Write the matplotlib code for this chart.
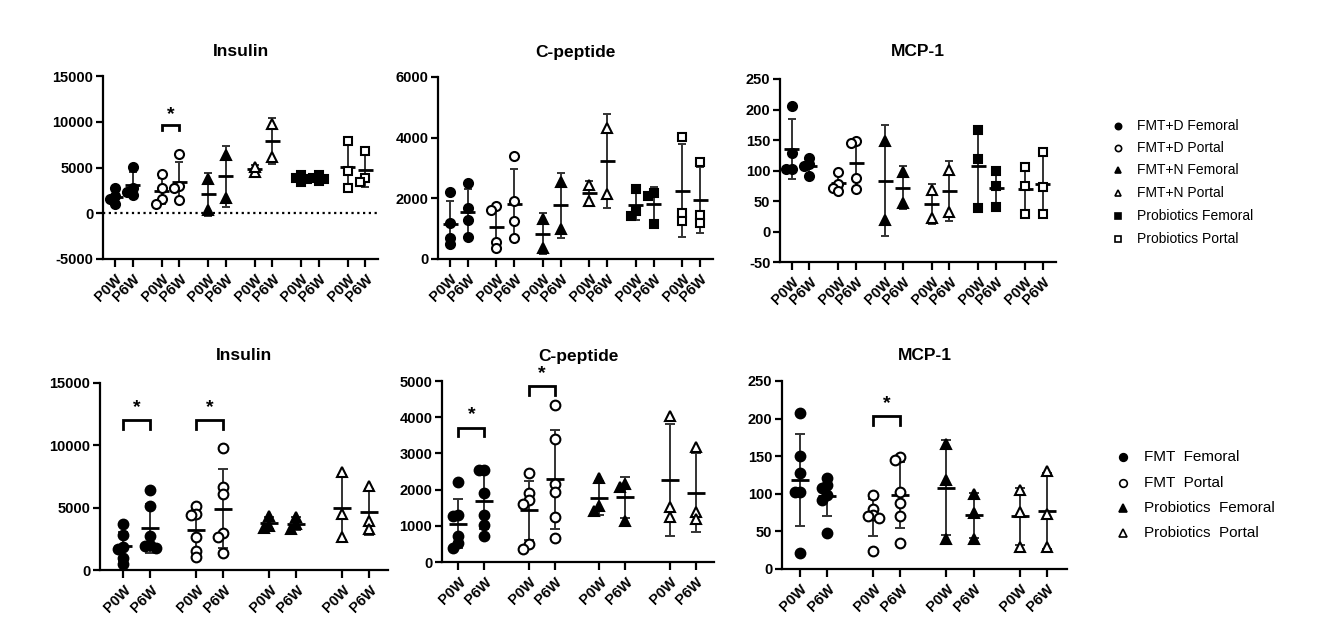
import numpy as np
import matplotlib
matplotlib.use('Agg')
import matplotlib.pyplot as plt
from matplotlib.lines import Line2D

plt.rcParams['font.family'] = ['Liberation Sans', 'DejaVu Sans']

# ---------------- data ----------------
timepoints = ['P0W', 'P6W']

top_groups = ['FMT+D Femoral', 'FMT+D Portal', 'FMT+N Femoral',
              'FMT+N Portal', 'Probiotics Femoral', 'Probiotics Portal']
bot_groups = ['FMT  Femoral', 'FMT  Portal', 'Probiotics  Femoral',
              'Probiotics  Portal']

# each entry: one column (group x timepoint), order P0W, P6W per group
top_insulin = [
    [2800, 1900, 1600, 1000], [5100, 2800, 2300, 2000],
    [4300, 2800, 1600, 1050], [6500, 3000, 2800, 1450],
    [3700, 400], [6400, 1700],
    [4500, 5100], [9700, 6100],
    [4200, 3700, 3400, 3900], [4200, 3700, 3500, 3800],
    [7850, 4600, 2800], [6800, 3900, 3400],
]
top_cpeptide = [
    [2200, 1200, 700, 500], [2520, 1680, 1300, 720],
    [1750, 1600, 550, 350], [3380, 1920, 1240, 680],
    [1320, 360], [2530, 1000],
    [2450, 1900], [4320, 2130],
    [2310, 1570, 1430], [2180, 2070, 1150],
    [4010, 1520, 1240], [3190, 1460, 1190],
]
top_mcp1 = [
    [206, 128, 103, 103], [121, 110, 107, 91],
    [98, 78, 72, 67], [148, 145, 87, 70],
    [148, 19], [97, 47],
    [68, 22], [101, 32],
    [167, 119, 38], [100, 75, 40],
    [105, 75, 29], [130, 73, 29],
]
bot_insulin = [
    [3680, 2800, 1660, 1870, 930, 480], [6450, 5100, 2750, 2000, 1950, 1750],
    [5150, 4480, 4380, 2670, 1550, 1020], [9800, 6620, 6090, 2940, 2670, 1390],
    [4300, 3550, 3400], [4250, 3650, 3250],
    [7870, 4480, 2670], [6750, 3950, 3260],
]
bot_cpeptide = [
    [2200, 1300, 1260, 710, 520, 390], [2540, 2540, 1900, 1300, 1030, 730],
    [2450, 1900, 1720, 1610, 510, 370], [4330, 3390, 2150, 1930, 1240, 660],
    [2310, 1420, 1560], [2160, 2060, 1140],
    [4030, 1510, 1240], [3180, 1390, 1180],
]
bot_mcp1 = [
    [207, 150, 128, 103, 102, 21], [121, 112, 108, 98, 92, 48],
    [99, 80, 72, 70, 68, 24], [149, 145, 103, 88, 71, 34],
    [166, 119, 40], [100, 74, 40],
    [105, 76, 29], [130, 73, 29],
]

top_markers = [('o', True), ('o', False), ('^', True), ('^', False),
               ('s', True), ('s', False)]
bot_markers = [('o', True), ('o', False), ('^', True), ('^', False)]

# ---------------- figure ----------------
W, H = 1328, 630
fig = plt.figure(figsize=(W / 100, H / 100), dpi=100)
fig.patch.set_facecolor('white')

TICK_FONT = dict(fontsize=10.5, fontweight='bold')


def swarm_offsets(vals, px_per_unit, d):
    """Prism-like column scatter: small sideways shifts, overlap allowed."""
    order = np.argsort(vals)[::-1]
    placed = []
    offs = np.zeros(len(vals))
    s = d * 0.6
    for i in order:
        y = vals[i] * px_per_unit
        best, best_score = 0.0, -1.0
        for c in [0, -1, 1]:
            x = c * s
            score = min([np.hypot(x - px, y - py) for px, py in placed] + [1e9])
            if score >= 0.6 * d:
                best = x
                break
            if score > best_score:
                best, best_score = x, score
        placed.append((best, y))
        offs[i] = best
    return offs


def panel(rect, first_tick, last_tick, title, data, markers, ylim, yticks,
          pair_gap, sigs=(), zero_line=False, mean_hw_px=7.5, cap=3.0,
          ms=6.5, title_y=None):
    x0, y0, x1, y1 = rect
    ax = fig.add_axes([x0 / W, 1 - y1 / H, (x1 - x0) / W, (y1 - y0) / H])
    n = len(data)
    pos = np.array([(i // 2) * pair_gap + (i % 2) for i in range(n)], float)
    unit = (last_tick - first_tick) / (pos[-1] - pos[0])
    xl = pos[0] - (first_tick - x0) / unit
    xr = pos[-1] + (x1 - last_tick) / unit
    ax.set_xlim(xl, xr)
    ax.set_ylim(*ylim)
    ypx = (y1 - y0) / (ylim[1] - ylim[0])

    if zero_line:
        ax.plot([xl, xr], [0, 0], color='black', lw=1.6,
                linestyle=(0, (1, 1.6)), zorder=1)

    for i, vals in enumerate(data):
        vals = np.array(vals, float)
        m = vals.mean()
        sd = vals.std(ddof=1)
        mk, filled = markers[i // 2]
        size = ms * (1.1 if mk == '^' else (0.95 if mk == 's' else 1.0))
        offs = swarm_offsets(vals, ypx, 9.0) / unit
        ax.errorbar([pos[i]], [m], yerr=[sd], fmt='none', ecolor='#333333',
                    elinewidth=1.4, capsize=cap, capthick=1.4, zorder=2)
        hw = mean_hw_px / unit
        ax.plot([pos[i] - hw, pos[i] + hw], [m, m], color='black', lw=2.0,
                zorder=3, solid_capstyle='butt')
        ax.plot(pos[i] + offs, vals, linestyle='none', marker=mk,
                markersize=size,
                markerfacecolor='black' if filled else 'white',
                markeredgecolor='black', markeredgewidth=1.5, zorder=4)

    for (gi, top, drop, star) in sigs:
        a, b = pos[2 * gi], pos[2 * gi + 1]
        ax.plot([a, a, b, b], [top - drop, top, top, top - drop],
                color='black', lw=2.0, zorder=3, solid_joinstyle='miter')
        ax.text((a + b) / 2, star, '*', ha='center', va='center',
                fontsize=14, fontweight='bold')

    for side in ('top', 'right'):
        ax.spines[side].set_visible(False)
    for side in ('left', 'bottom'):
        ax.spines[side].set_linewidth(1.6)
    ax.set_yticks(yticks)
    ax.set_yticklabels([str(t) for t in yticks])
    ax.set_xticks(pos)
    ax.set_xticklabels([timepoints[i % 2] for i in range(n)], rotation=45,
                       ha='right', rotation_mode='anchor')
    for lab in ax.get_xticklabels() + ax.get_yticklabels():
        lab.set_fontsize(TICK_FONT['fontsize'])
        lab.set_fontweight(TICK_FONT['fontweight'])
    ax.tick_params(axis='both', direction='out', width=1.6, length=5,
                   pad=2, color='black')
    ax.tick_params(axis='x', length=6, pad=3)
    fig.text((x0 + x1) / 2 / W, 1 - title_y / H, title, ha='center',
             va='center', fontsize=12.5, fontweight='bold')
    return ax


# top row
panel((103, 76, 378, 259), 115, 365.3, 'Insulin', top_insulin, top_markers,
      (-5000, 15000), [-5000, 0, 5000, 10000, 15000], 2.64,
      sigs=[(1, 9600, 500, 10750)], zero_line=True, title_y=52)
panel((438, 77, 713, 259), 450, 700, 'C-peptide', top_cpeptide, top_markers,
      (0, 6000), [0, 2000, 4000, 6000], 2.64, title_y=52)
panel((780, 79, 1056, 262), 791.7, 1042.7, 'MCP-1', top_mcp1, top_markers,
      (-50, 250), [-50, 0, 50, 100, 150, 200, 250], 2.64, title_y=52)

# bottom row
panel((100, 383, 388, 570), 123.3, 369.3, 'Insulin', bot_insulin, bot_markers,
      (0, 15000), [0, 5000, 10000, 15000], 2.7,
      sigs=[(0, 12050, 750, 13050), (1, 12050, 750, 13050)],
      mean_hw_px=9, cap=3.6, ms=7, title_y=356)
panel((442, 381, 714, 562), 458.3, 696, 'C-peptide', bot_cpeptide, bot_markers,
      (0, 5000), [0, 1000, 2000, 3000, 4000, 5000], 2.7,
      sigs=[(0, 3700, 230, 4060), (1, 4850, 250, 5200)],
      mean_hw_px=9, cap=3.6, ms=7, title_y=356)
panel((782, 381, 1067, 569), 800, 1046.7, 'MCP-1', bot_mcp1, bot_markers,
      (0, 250), [0, 50, 100, 150, 200, 250], 2.7,
      sigs=[(1, 204, 12, 220)],
      mean_hw_px=9, cap=3.6, ms=7, title_y=356)


# legends
def legend(names, markers, mx, tx, ys, ms, fs):
    for name, (mk, filled), y in zip(names, markers, ys):
        fy = 1 - y / H
        fig.add_artist(Line2D([mx / W], [fy], transform=fig.transFigure,
                              marker=mk, linestyle='none', markersize=ms,
                              markerfacecolor='black' if filled else 'white',
                              markeredgecolor='black', markeredgewidth=1.2))
        fig.text(tx / W, fy, name, ha='left', va='center', fontsize=fs)


legend(top_groups, top_markers, 1118, 1137,
       [125.6, 148, 170.5, 193, 216, 239], 4.5, 10)
legend(bot_groups, bot_markers, 1123, 1144, [457, 483, 508, 533], 5.5, 11)

fig.savefig('out.png', dpi=100, facecolor='white')
